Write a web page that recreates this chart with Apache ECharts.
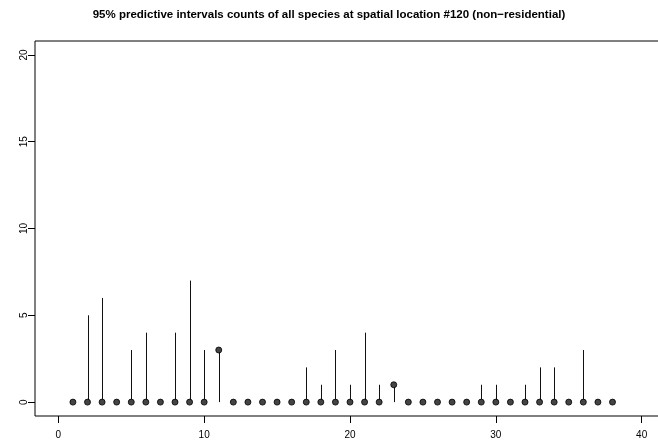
<!DOCTYPE html>
<html>
<head>
<meta charset="utf-8">
<script src="https://cdn.jsdelivr.net/npm/echarts@6/dist/echarts.min.js"></script>
<style>
html,body{margin:0;padding:0;background:#fff;}
#chart{width:658px;height:444px;}
</style>
</head>
<body>
<div id="chart"></div>
<script>
// Species index 1..38
var species = [1,2,3,4,5,6,7,8,9,10,11,12,13,14,15,16,17,18,19,20,21,22,23,24,25,26,27,28,29,30,31,32,33,34,35,36,37,38];
// Median predicted counts
var median  = [0,0,0,0,0,0,0,0,0,0,3,0,0,0,0,0,0,0,0,0,0,0,1,0,0,0,0,0,0,0,0,0,0,0,0,0,0,0];
// 95% interval lower bounds
var lower   = [0,0,0,0,0,0,0,0,0,0,0,0,0,0,0,0,0,0,0,0,0,0,0,0,0,0,0,0,0,0,0,0,0,0,0,0,0,0];
// 95% interval upper bounds
var upper   = [0,5,6,0,3,4,0,4,7,3,3,0,0,0,0,0,2,1,3,1,4,1,1,0,0,0,0,0,1,1,0,1,2,2,0,3,0,0];
var xTicks = [0,10,20,30,40];
var yTicks = [0,5,10,15,20];
var titleText = '95% predictive intervals counts of all species at spatial location #120 (non\u2212residential)';

var segData = species.map(function(s,i){ return [s, lower[i], upper[i]]; });
var ptData = species.map(function(s,i){ return [s, median[i]]; });
var FONT = 'Liberation Sans, Arial, sans-serif';

var chart = echarts.init(document.getElementById('chart'), null, {renderer:'canvas'});
chart.setOption({
  animation:false,
  backgroundColor:'#fff',
  title:{
    text:titleText, left:'center', top:4,
    textStyle:{fontFamily:FONT, fontWeight:'bold', fontSize:11.5, color:'#000'}
  },
  grid:{left:35, top:41, width:630, height:375, show:true, borderColor:'#000', borderWidth:1,
        backgroundColor:'transparent', containLabel:false, outerBoundsMode:'none'},
  xAxis:{
    type:'value', min:-1.6, max:41.6,
    splitLine:{show:false},
    axisLine:{show:false, onZero:false},
    axisTick:{show:true, length:7, lineStyle:{color:'#000'}, customValues:xTicks},
    axisLabel:{show:true, customValues:xTicks, margin:14, fontSize:10, color:'#000', fontFamily:FONT}
  },
  yAxis:{
    type:'value', min:-0.8, max:20.8,
    splitLine:{show:false},
    axisLine:{show:false, onZero:false},
    axisTick:{show:true, length:7, lineStyle:{color:'#000'}, customValues:yTicks},
    axisLabel:{show:true, customValues:yTicks, rotate:90, margin:6, fontSize:10, color:'#000', fontFamily:FONT}
  },
  series:[
    {
      type:'custom',
      data:segData,
      renderItem:function(params, api){
        var x = api.value(0);
        var p1 = api.coord([x, api.value(1)]);
        var p2 = api.coord([x, api.value(2)]);
        return {type:'line', shape:{x1:Math.round(p1[0])+0.5, y1:p1[1], x2:Math.round(p2[0])+0.5, y2:p2[1]}, style:{stroke:'#111', lineWidth:1}};
      },
      z:2
    },
    {
      type:'scatter',
      data:ptData,
      symbol:'circle',
      symbolSize:6,
      itemStyle:{color:'#444', borderColor:'#000', borderWidth:0.8, opacity:1},
      z:3
    }
  ]
});
</script>
</body>
</html>
